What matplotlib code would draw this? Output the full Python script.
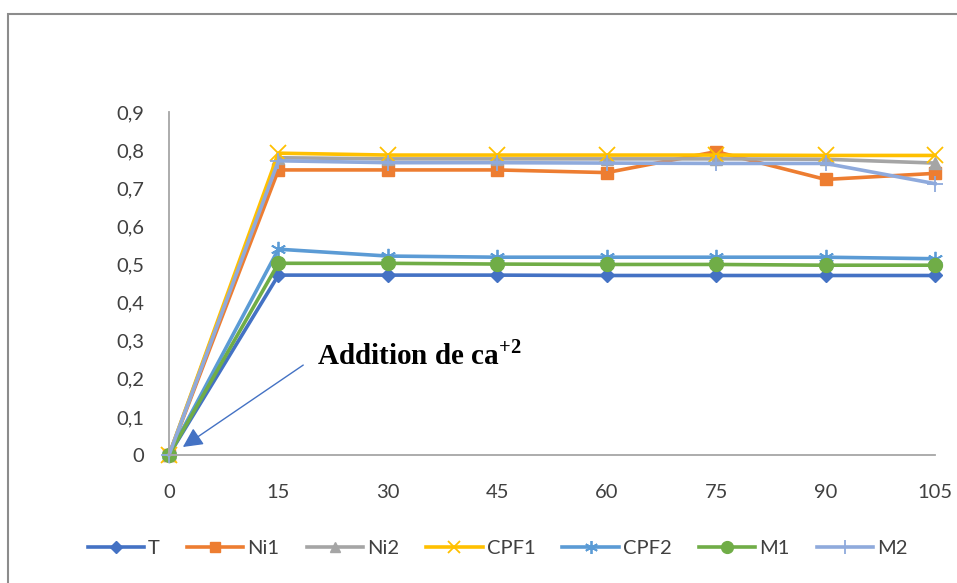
import matplotlib
matplotlib.use("Agg")
import matplotlib.pyplot as plt
from matplotlib.patches import Rectangle
from matplotlib.lines import Line2D

# Time (min) and absorbance readings for each sample
times = [0, 15, 30, 45, 60, 75, 90, 105]
T    = [0, 0.472, 0.472, 0.472, 0.471, 0.471, 0.471, 0.471]
Ni1  = [0, 0.748, 0.748, 0.748, 0.741, 0.796, 0.723, 0.739]
Ni2  = [0, 0.780, 0.777, 0.777, 0.777, 0.777, 0.776, 0.766]
CPF1 = [0, 0.792, 0.787, 0.787, 0.787, 0.787, 0.786, 0.786]
CPF2 = [0, 0.540, 0.522, 0.519, 0.519, 0.519, 0.519, 0.515]
M1   = [0, 0.503, 0.503, 0.501, 0.500, 0.500, 0.498, 0.498]
M2   = [0, 0.772, 0.767, 0.767, 0.766, 0.765, 0.765, 0.712]

names = ["T", "Ni1", "Ni2", "CPF1", "CPF2", "M1", "M2"]
series = [T, Ni1, Ni2, CPF1, CPF2, M1, M2]
y_ticks = [0, 0.1, 0.2, 0.3, 0.4, 0.5, 0.6, 0.7, 0.8, 0.9]
y_labels = ["0", "0,1", "0,2", "0,3", "0,4", "0,5", "0,6", "0,7", "0,8", "0,9"]

colors = ["#4472C4", "#ED7D31", "#A5A5A5", "#FFC000", "#5B9BD5", "#70AD47", "#8FAADC"]
markers = ["D", "s", "^", "x", (6, 2, 0), "o", "+"]
msizes = [7, 9, 9, 11, 11, 10, 12]
mews = [1, 1, 1, 1.3, 1.3, 1, 1.3]

plt.rcParams["mathtext.fontset"] = "custom"
plt.rcParams["mathtext.rm"] = "Liberation Serif:bold"
plt.rcParams["mathtext.bf"] = "Liberation Serif:bold"

label_font = ["Lato", "DejaVu Sans"]

fig = plt.figure(figsize=(9.57, 5.83), dpi=100)
W, H = 957, 583

# outer chart frame
fig.patches.append(Rectangle((8 / W, -0.05), 1.2, 1 - 14 / H + 0.05,
                             transform=fig.transFigure, fill=False,
                             edgecolor="#8c8c8c", lw=1.5))

ax = fig.add_axes([169 / W, (H - 455) / H, (935 - 169) / W, 343 / H])

handles = []
for name, vals, c, m, ms, mew in zip(names, series, colors, markers, msizes, mews):
    ax.plot(times, vals, color=c, lw=2.6, marker=m, markersize=ms,
            markeredgewidth=mew, markeredgecolor=c, markerfacecolor=c,
            clip_on=False, label=name)
    handles.append(Line2D([0], [0], color=c, lw=2.6, marker=m,
                          markersize=ms * 0.85, markeredgewidth=mew,
                          markeredgecolor=c, markerfacecolor=c))

ax.set_xlim(0, 105)
ax.set_ylim(0, 0.9)
ax.set_xticks(times)
ax.set_xticklabels([str(t) for t in times], family=label_font, fontsize=14.5,
                   color="#404040")
ax.set_yticks(y_ticks)
ax.set_yticklabels(y_labels, family=label_font, fontsize=14.5, color="#404040")
ax.tick_params(axis="both", length=0)
ax.tick_params(axis="y", pad=18)
ax.tick_params(axis="x", pad=21)

for s in ["top", "right"]:
    ax.spines[s].set_visible(False)
for s in ["left", "bottom"]:
    ax.spines[s].set_color("#a6a6a6")
    ax.spines[s].set_linewidth(1.3)

# calcium addition marker
ax.annotate("", xy=(1.9, 0.021), xytext=(18.4, 0.236),
            arrowprops=dict(arrowstyle="-|>", color="#4472C4", lw=1,
                            mutation_scale=30, shrinkA=0, shrinkB=0))
ax.text(20.3, 0.262, r"Addition de ca$^{+2}$", family="Liberation Serif",
        fontweight="bold", fontsize=21, va="center", ha="left", color="black")

fig.legend(handles, names, loc="center", bbox_to_anchor=(0.52, 1 - 548 / H),
           ncol=7, frameon=False, handlelength=2.8, handletextpad=0.2,
           columnspacing=1.35, prop={"family": label_font, "size": 14.5},
           labelcolor="#404040")

fig.savefig("out.png", dpi=100)
